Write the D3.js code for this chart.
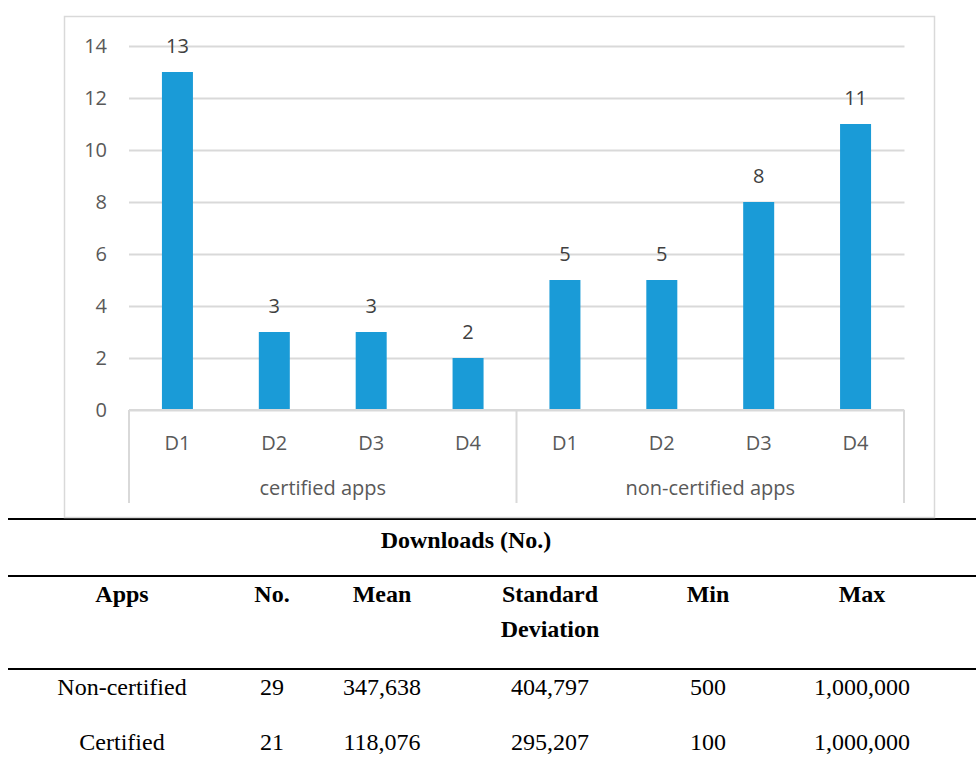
<!DOCTYPE html>
<html>
<head>
<meta charset="utf-8">
<script src="https://cdn.jsdelivr.net/npm/d3@7"></script>
<style>
  body { margin: 0; background: #fff; }
  svg { display: block; }
</style>
</head>
<body>
<svg id="chart" width="976" height="777"></svg>
<script>
// chart data
const groups = ['certified apps', 'non-certified apps'];
const periods = ['D1', 'D2', 'D3', 'D4'];
const certifiedValues = [13, 3, 3, 2];
const nonCertifiedValues = [5, 5, 8, 11];
const yTicks = [0, 2, 4, 6, 8, 10, 12, 14];

// table data
const tableTitle = 'Downloads (No.)';
const tableHeader = ['Apps', 'No.', 'Mean', 'Standard\nDeviation', 'Min', 'Max'];
const tableRows = [
	['Non-certified', '29', '347,638', '404,797', '500', '1,000,000'],
	['Certified', '21', '118,076', '295,207', '100', '1,000,000'],
];

const bars = [];
groups.forEach((g, gi) => {
	const vals = gi === 0 ? certifiedValues : nonCertifiedValues;
	periods.forEach((p, pi) => bars.push({ key: g + '|' + p, group: g, period: p, value: vals[pi] }));
});

const svg = d3.select('#chart');
const axisColor = '#d9d9d9';
const textColor = '#595959';
const sans = "'Open Sans', 'Noto Sans', sans-serif";
const serif = "'Liberation Serif', 'DejaVu Serif', serif";

// table rules (frame sits on top of the first one)
const ruleY = [519, 576, 669];
svg.selectAll('line.rule')
	.data(ruleY)
	.enter().append('line')
	.attr('class', 'rule')
	.attr('x1', 8).attr('x2', 976)
	.attr('y1', (d) => d).attr('y2', (d) => d)
	.attr('stroke', '#000').attr('stroke-width', 2.2);

// chart frame
svg.append('rect')
	.attr('x', 64.5).attr('y', 16.5)
	.attr('width', 870).attr('height', 501)
	.attr('fill', '#fff')
	.attr('stroke', axisColor).attr('stroke-width', 1.5);

const plot = { left: 129, right: 904, top: 46, bottom: 410 };

const x = d3.scaleBand()
	.domain(bars.map((d) => d.key))
	.range([plot.left, plot.right])
	.paddingInner(0.68)
	.paddingOuter(0.34);

const y = d3.scaleLinear()
	.domain([0, 14])
	.range([plot.bottom, plot.top]);

// gridlines + y labels
const yAxis = d3.axisLeft(y)
	.tickValues(yTicks)
	.tickSize(-(plot.right - plot.left))
	.tickPadding(22);

const yg = svg.append('g')
	.attr('transform', `translate(${plot.left},0)`)
	.call(yAxis);
yg.select('.domain').remove();
yg.selectAll('.tick line')
	.attr('stroke', axisColor).attr('stroke-width', 2)
	.attr('x2', plot.right - plot.left + 0.5);
yg.selectAll('.tick text')
	.attr('fill', textColor)
	.style('font-family', sans)
	.style('font-size', '20px');

// bars
svg.append('g')
	.selectAll('rect')
	.data(bars)
	.enter().append('rect')
	.attr('x', (d) => x(d.key))
	.attr('width', x.bandwidth())
	.attr('y', (d) => y(d.value))
	.attr('height', (d) => y(0) - y(d.value))
	.attr('fill', '#1a9bd7');

// value labels
svg.append('g')
	.selectAll('text')
	.data(bars)
	.enter().append('text')
	.attr('x', (d) => x(d.key) + x.bandwidth() / 2)
	.attr('y', (d) => y(d.value) - 19)
	.attr('text-anchor', 'middle')
	.attr('fill', '#404040')
	.style('font-family', sans)
	.style('font-size', '20px')
	.text((d) => d.value);

// multi-level category axis
const axisG = svg.append('g');
axisG.append('line')
	.attr('x1', plot.left).attr('x2', plot.right)
	.attr('y1', plot.bottom).attr('y2', plot.bottom)
	.attr('stroke', axisColor).attr('stroke-width', 2);

const step = x.step();
const groupEdges = [plot.left, plot.left + step * periods.length, plot.right];
axisG.selectAll('line.sep')
	.data(groupEdges)
	.enter().append('line')
	.attr('class', 'sep')
	.attr('x1', (d) => d).attr('x2', (d) => d)
	.attr('y1', plot.bottom).attr('y2', 503)
	.attr('stroke', axisColor).attr('stroke-width', 2);

axisG.selectAll('text.period')
	.data(bars)
	.enter().append('text')
	.attr('class', 'period')
	.attr('x', (d) => x(d.key) + x.bandwidth() / 2)
	.attr('y', 450)
	.attr('text-anchor', 'middle')
	.attr('fill', textColor)
	.style('font-family', sans)
	.style('font-size', '20px')
	.text((d) => d.period);

axisG.selectAll('text.group')
	.data(groups)
	.enter().append('text')
	.attr('class', 'group')
	.attr('x', (d, i) => (groupEdges[i] + groupEdges[i + 1]) / 2)
	.attr('y', 495)
	.attr('text-anchor', 'middle')
	.attr('fill', textColor)
	.style('font-family', sans)
	.style('font-size', '20px')
	.text((d) => d);

// table
const colX = [122, 272, 382, 550, 708, 862];

svg.append('text')
	.attr('x', 466).attr('y', 548)
	.attr('text-anchor', 'middle')
	.style('font-family', serif)
	.style('font-size', '24px')
	.style('font-weight', 'bold')
	.text(tableTitle);

const head = svg.append('g');
tableHeader.forEach((h, i) => {
	const t = head.append('text')
		.attr('x', colX[i]).attr('y', 602)
		.attr('text-anchor', 'middle')
		.style('font-family', serif)
		.style('font-size', '24px')
		.style('font-weight', 'bold');
	h.split('\n').forEach((part, j) => {
		t.append('tspan').attr('x', colX[i]).attr('dy', j === 0 ? 0 : 35).text(part);
	});
});

const rowY = [695, 750];
tableRows.forEach((row, r) => {
	svg.append('g')
		.selectAll('text')
		.data(row)
		.enter().append('text')
		.attr('x', (d, i) => colX[i])
		.attr('y', rowY[r])
		.attr('text-anchor', 'middle')
		.style('font-family', serif)
		.style('font-size', '24px')
		.text((d) => d);
});
</script>
</body>
</html>
